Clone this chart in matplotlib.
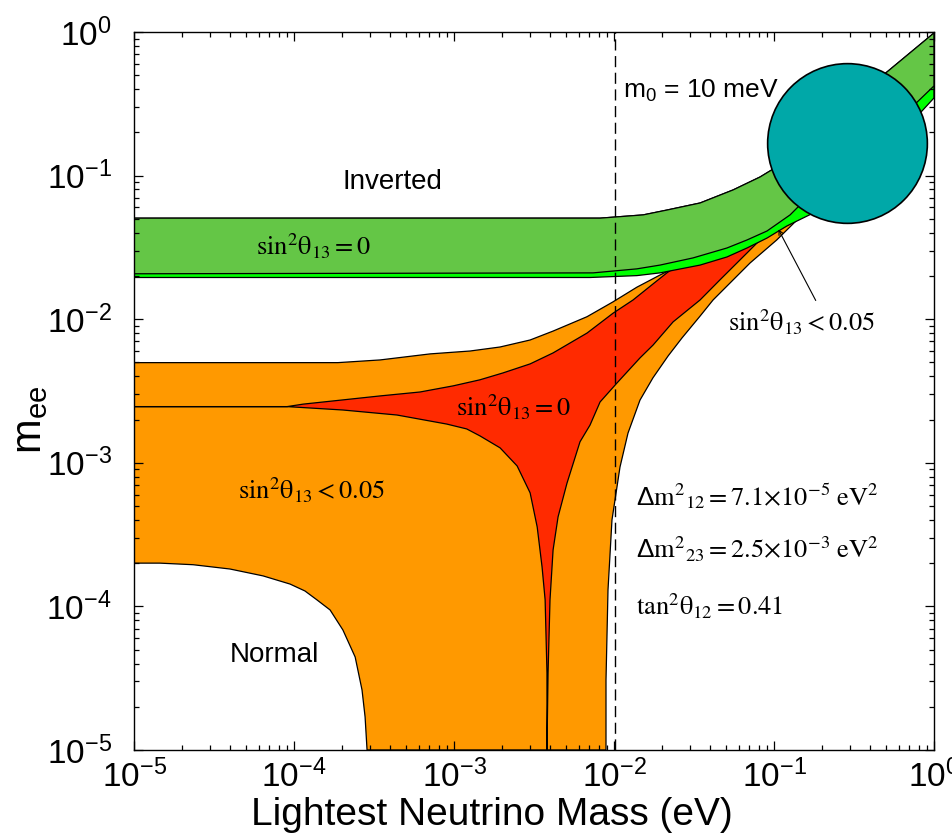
import matplotlib.pyplot as plt
import numpy as np

plt.rcParams["font.family"] = ["Liberation Sans", "DejaVu Sans"]
plt.rcParams["mathtext.fontset"] = "custom"
plt.rcParams["mathtext.rm"] = "Liberation Sans"
plt.rcParams["mathtext.it"] = "Liberation Sans:italic"
plt.rcParams["mathtext.default"] = "regular"

# normal hierarchy, sin^2 theta13 < 0.05 (orange): upper edge, right edge, edge of the white "Normal" hole
normal_upper_m0 = [1e-5, 1.88e-4, 3.45e-4, 7.1e-4, 1.26e-3, 1.94e-3, 2.99e-3, 4.16e-3, 6.78e-3,
                   9.86e-3, 1.39e-2, 1.94e-2, 3.45e-2, 0.1, 0.316, 1.0]
normal_upper_mee = [4.98e-3, 4.98e-3, 5.2e-3, 5.73e-3, 6.0e-3, 6.4e-3, 7.16e-3, 8.26e-3, 1.04e-2,
                    1.32e-2, 1.67e-2, 2.03e-2, 2.8e-2, 5.3e-2, 0.151, 0.64]
normal_right_m0 = [1.0, 0.345, 0.152, 0.104, 0.0708, 0.0416, 0.0345, 0.0266, 0.0218, 0.0175,
                   0.01453, 0.01223, 0.0109, 0.00971, 0.00917, 0.00891, 0.00891]
normal_right_mee = [0.355, 0.128, 0.054, 0.0356, 0.0246, 0.0136, 0.0105, 0.0074, 0.00555, 0.0039,
                    0.00273, 0.00161, 9.35e-4, 4.0e-4, 1.3e-4, 3.07e-5, 1e-5]
normal_hole_m0 = [1e-5, 1.45e-5, 2.34e-5, 3.98e-5, 6.4e-5, 9.44e-5, 1.17e-4, 1.39e-4, 1.68e-4,
                  2.02e-4, 2.41e-4, 2.66e-4, 2.78e-4, 2.86e-4]
normal_hole_mee = [2.0e-4, 2.0e-4, 1.95e-4, 1.82e-4, 1.63e-4, 1.43e-4, 1.28e-4, 1.11e-4, 9.44e-5,
                   6.85e-5, 4.44e-5, 2.62e-5, 1.7e-5, 1.0e-5]

# normal hierarchy, sin^2 theta13 = 0 (red)
red_upper_m0 = [1e-5, 9.04e-5, 1.14e-4, 2.02e-4, 3.45e-4, 6.13e-4, 9.86e-4, 1.45e-3, 2.02e-3,
                2.99e-3, 4.16e-3, 6.78e-3, 9.86e-3, 1.315e-2, 1.754e-2, 2.14e-2, 3.45e-2, 0.1, 0.316, 1.0]
red_upper_mee = [2.46e-3, 2.46e-3, 2.56e-3, 2.74e-3, 2.92e-3, 3.11e-3, 3.43e-3, 3.78e-3, 4.22e-3,
                 4.88e-3, 5.82e-3, 8.0e-3, 1.1e-2, 1.36e-2, 1.76e-2, 2.1e-2, 3.03e-2, 6.76e-2, 0.177, 0.75]
red_right_m0 = [1.0, 0.345, 0.126, 0.0818, 0.0678, 0.046, 0.0345, 0.0234, 0.01754, 0.01453,
                0.01045, 0.00818, 0.00708, 0.00613, 0.00508, 0.00447, 0.00416, 0.00398, 0.00387, 0.00381]
red_right_mee = [0.39, 0.128, 0.046, 0.0356, 0.0289, 0.0188, 0.0136, 0.00957, 0.0066, 0.00537,
                 0.0036, 0.00265, 0.00183, 0.0014, 7.2e-4, 4.2e-4, 2.47e-4, 1.11e-4, 3.44e-5, 1e-5]
red_left_m0 = [3.81e-3, 3.81e-3, 3.71e-3, 3.55e-3, 3.31e-3, 2.99e-3, 2.48e-3, 1.94e-3, 1.45e-3,
               1.2e-3, 9.0e-4, 4.4e-4, 2.02e-4, 1.09e-4, 9.04e-5, 1e-5]
red_left_mee = [1e-5, 3.44e-5, 1.11e-4, 1.88e-4, 3.57e-4, 6.17e-4, 9.5e-4, 1.27e-3, 1.54e-3,
                1.72e-3, 1.86e-3, 2.15e-3, 2.33e-3, 2.43e-3, 2.46e-3, 2.46e-3]

# inverted hierarchy: sin^2 theta13 = 0 (green) and < 0.05 (bright green strip)
inv_upper_m0 = [1e-5, 8.18e-3, 1.52e-2, 2.14e-2, 3.45e-2, 5.55e-2, 8.18e-2, 0.1014, 0.286, 0.508, 1.0]
inv_upper_mee = [0.0505, 0.0505, 0.0532, 0.0575, 0.0644, 0.0794, 0.0977, 0.113, 0.336, 0.526, 0.984]
inv_lower_m0 = [1.0, 0.74, 0.168, 0.126, 0.0904, 0.0678, 0.0508, 0.0312, 0.0194, 0.0139, 0.0074, 1e-5]
inv_lower_mee = [0.421, 0.305, 0.0733, 0.0532, 0.0411, 0.0356, 0.0313, 0.0267, 0.0238, 0.0224, 0.021, 0.0207]
inv_wide_lower_m0 = [1.0, 0.2585, 0.1205, 0.0904, 0.0678, 0.0508, 0.0345, 0.0194, 0.0139, 0.00708, 1e-5]
inv_wide_lower_mee = [0.347, 0.0676, 0.0446, 0.0367, 0.0313, 0.0271, 0.0238, 0.021, 0.0201, 0.0195, 0.0195]

m0_line = 1.01e-2
blob_m0, blob_mee = 0.284, 0.168

fig = plt.figure(figsize=(9.52, 8.36), dpi=100)
ax = fig.add_axes([0.1408, 0.1029, 0.8403, 0.8589])
ax.set_xscale("log")
ax.set_yscale("log")

edge = dict(edgecolor="black", linewidth=0.9)

ax.fill(normal_upper_m0 + normal_right_m0 + normal_hole_m0[::-1],
        normal_upper_mee + normal_right_mee + normal_hole_mee[::-1],
        facecolor="#FF9900", **edge)
ax.fill(red_upper_m0 + red_right_m0 + red_left_m0,
        red_upper_mee + red_right_mee + red_left_mee,
        facecolor="#FF2A00", **edge)
ax.fill(inv_upper_m0 + inv_wide_lower_m0, inv_upper_mee + inv_wide_lower_mee,
        facecolor="#00FF00", **edge)
ax.fill(inv_upper_m0 + inv_lower_m0, inv_upper_mee + inv_lower_mee,
        facecolor="#64C646", **edge)

ax.axvline(m0_line, color="black", lw=1.0, dashes=(8, 4))
ax.plot([blob_m0], [blob_mee], "o", ms=115, mfc="#00A8A8", mec="black", mew=1.2, zorder=5)

ax.set_xlim(1e-5, 1)
ax.set_ylim(1e-5, 1)
ax.tick_params(which="both", direction="in", top=True, right=True, width=0.9, labelsize=24)
ax.tick_params(which="major", length=6.5)
ax.tick_params(which="minor", length=3.5)
ax.tick_params(axis="y", pad=16)
ax.tick_params(axis="x", pad=7)
for sp in ax.spines.values():
    sp.set_linewidth(1.0)

ax.set_xlabel("Lightest Neutrino Mass (eV)", fontsize=28)
ax.xaxis.set_label_coords(0.4475, -0.066)
ax.set_ylabel(r"$m_{ee}$", fontsize=30)
ax.yaxis.set_label_coords(-0.105, 0.46)

ax.text(4.1e-4, 0.0902, "Inverted", fontsize=20, ha="center", va="center")
ax.text(7.5e-5, 4.59e-5, "Normal", fontsize=20, ha="center", va="center")
ax.text(0.01138, 0.3487, r"$m_0$ = 10 meV", fontsize=19, ha="left", va="baseline")

serif = dict(math_fontfamily="stix", fontsize=19, ha="left", va="baseline")
ax.text(5.79e-5, 0.028, r"$\mathrm{sin^{2}θ_{13} = 0}$", **serif)
ax.text(4.47e-5, 5.6e-4, r"$\mathrm{sin^{2}θ_{13} < 0.05}$", **serif)
ax.text(1.03e-3, 2.12e-3, r"$\mathrm{sin^{2}θ_{13} = 0}$", **serif)
ax.text(0.0516, 8.18e-3, r"$\mathrm{sin^{2}θ_{13} < 0.05}$", **serif)
ax.text(0.0138, 5.08e-4, r"$\Delta\mathrm{m^{2}{}_{12} = 7.1{\times}10^{-5}\ eV^{2}}$", **serif)
ax.text(0.0138, 2.16e-4, r"$\Delta\mathrm{m^{2}{}_{23} = 2.5{\times}10^{-3}\ eV^{2}}$", **serif)
ax.text(0.0138, 8.71e-5, r"$\mathrm{tan^{2}θ_{12} = 0.41}$", **serif)

ax.annotate("", xy=(0.1045, 0.0439), xytext=(0.1857, 0.01297),
            arrowprops=dict(arrowstyle="->", color="black", lw=0.8, mutation_scale=8))

fig.savefig("out.png", dpi=100)
